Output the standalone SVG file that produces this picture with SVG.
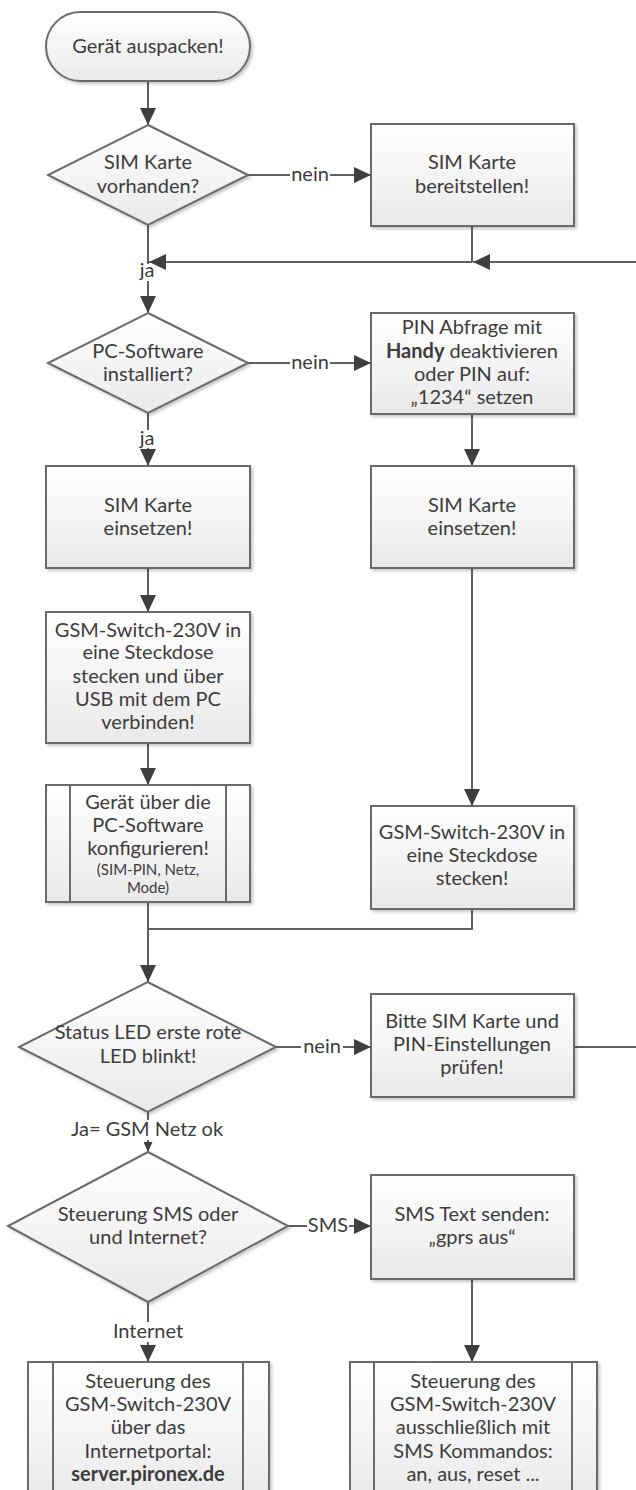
<svg xmlns="http://www.w3.org/2000/svg" width="636" height="1490" viewBox="0 0 636 1490">
<defs>
<linearGradient id="g" x1="0" y1="0" x2="0" y2="1">
<stop offset="0" stop-color="#ffffff"/>
<stop offset="1" stop-color="#e9e9e9"/>
</linearGradient>
<filter id="sh" x="-10%" y="-10%" width="120%" height="125%">
<feDropShadow dx="2" dy="2" stdDeviation="1.5" flood-color="#000" flood-opacity="0.22"/>
</filter>
<marker id="ah" markerWidth="17" markerHeight="16" refX="17" refY="8" orient="auto" markerUnits="userSpaceOnUse">
<path d="M0,0 L17,8 L0,16 Z" fill="#3f3f3f"/>
</marker>
<marker id="ahs" markerWidth="10" markerHeight="9" refX="10" refY="4.5" orient="auto" markerUnits="userSpaceOnUse">
<path d="M0,0 L10,4.5 L0,9 Z" fill="#3f3f3f"/>
</marker>
<style>
.n{fill:url(#g);stroke:#6b6b6b;stroke-width:2;filter:url(#sh)}
.s{fill:none;stroke:#6b6b6b;stroke-width:2}
.t{font-family:Lato,"Open Sans",sans-serif;font-size:20px;fill:#3c3c3c;text-anchor:middle}
.sm{font-size:15px}
.b{font-weight:bold}
.c{stroke:#5e5e5e;stroke-width:2;fill:none}
.a{marker-end:url(#ah)}
.as{marker-end:url(#ahs)}
.lb{fill:#ffffff}
</style>
</defs>

<g id="connectors">
<path class="c a" d="M148,81 L148,125"/>
<path class="c a" d="M248,175 L371,175"/>
<rect class="lb" x="290" y="166" width="40" height="18"/>
<text class="t" x="310" y="181">nein</text>
<path class="c" d="M472,226 L472,262"/>
<path class="c a" d="M148,225 L148,313"/>
<rect class="lb" x="139" y="264" width="18" height="17"/>
<text class="t" x="147" y="277">ja</text>
<path class="c a" d="M640,262 L473,262"/>
<path class="c a" d="M472,262 L149,262"/>
<path class="c a" d="M248,363 L371,363"/>
<rect class="lb" x="290" y="354" width="40" height="18"/>
<text class="t" x="310" y="369">nein</text>
<path class="c a" d="M148,413 L148,466"/>
<rect class="lb" x="139" y="430" width="18" height="18"/>
<text class="t" x="147" y="445">ja</text>
<path class="c a" d="M472,414 L472,466"/>
<path class="c a" d="M148,568 L148,612"/>
<path class="c a" d="M148,743 L148,785"/>
<path class="c a" d="M472,568 L472,806"/>
<path class="c" d="M472,909 L472,929 L148,929"/>
<path class="c a" d="M148,902 L148,982"/>
<path class="c a" d="M276,1047 L371,1047"/>
<rect class="lb" x="301" y="1038" width="42" height="18"/>
<text class="t" x="322" y="1053">nein</text>
<path class="c" d="M574,1047 L640,1047"/>
<path class="c as" d="M148,1112 L148,1152"/>
<rect class="lb" x="67" y="1120" width="160" height="20"/>
<text class="t" x="147" y="1136">Ja= GSM Netz ok</text>
<path class="c a" d="M288,1226 L371,1226"/>
<rect class="lb" x="307" y="1217" width="42" height="18"/>
<text class="t" x="328" y="1232">SMS</text>
<path class="c a" d="M472,1279 L472,1362"/>
<path class="c a" d="M148,1302 L148,1362"/>
<rect class="lb" x="106" y="1322" width="84" height="20"/>
<text class="t" x="148" y="1338">Internet</text>
</g>

<g id="start">
<rect class="n" x="46" y="12" width="204" height="69" rx="34.5" ry="34.5"/>
<text class="t" x="148" y="53">Gerät auspacken!</text>
</g>

<g id="dec_sim">
<polygon class="n" points="148,125 248,175 148,225 48,175"/>
<text class="t" x="148" y="169">SIM Karte</text>
<text class="t" x="148" y="193">vorhanden?</text>
</g>

<g id="sim_bereit">
<rect class="n" x="371" y="124" width="203" height="102"/>
<text class="t" x="472" y="169">SIM Karte</text>
<text class="t" x="472" y="193">bereitstellen!</text>
</g>

<g id="dec_pc">
<polygon class="n" points="148,313 248,363 148,413 48,363"/>
<text class="t" x="148" y="358">PC-Software</text>
<text class="t" x="148" y="381">installiert?</text>
</g>

<g id="pin">
<rect class="n" x="371" y="313" width="203" height="101"/>
<text class="t" x="472" y="334">PIN Abfrage mit</text>
<text class="t" x="472" y="358"><tspan class="b">Handy</tspan> deaktivieren</text>
<text class="t" x="472" y="381">oder PIN auf:</text>
<text class="t" x="472" y="404">„1234“ setzen</text>
</g>

<g id="sim_einsetzen_l">
<rect class="n" x="46" y="466" width="204" height="102"/>
<text class="t" x="148" y="512">SIM Karte</text>
<text class="t" x="148" y="535">einsetzen!</text>
</g>

<g id="sim_einsetzen_r">
<rect class="n" x="371" y="466" width="203" height="102"/>
<text class="t" x="472" y="512">SIM Karte</text>
<text class="t" x="472" y="535">einsetzen!</text>
</g>

<g id="gsm_usb">
<rect class="n" x="46" y="612" width="204" height="131"/>
<text class="t" x="148" y="637">GSM-Switch-230V in</text>
<text class="t" x="148" y="659">eine Steckdose</text>
<text class="t" x="148" y="683">stecken und über</text>
<text class="t" x="148" y="706">USB mit dem PC</text>
<text class="t" x="148" y="729">verbinden!</text>
</g>

<g id="konfig">
<rect class="n" x="46" y="785" width="204" height="117"/>
<line class="s" x1="70" y1="785" x2="70" y2="902"/>
<line class="s" x1="226" y1="785" x2="226" y2="902"/>
<text class="t" x="148" y="809">Gerät über die</text>
<text class="t" x="148" y="832">PC-Software</text>
<text class="t" x="148" y="855">konfigurieren!</text>
<text class="t sm" x="148" y="875">(SIM-PIN, Netz,</text>
<text class="t sm" x="148" y="893">Mode)</text>
</g>

<g id="gsm_steckdose">
<rect class="n" x="371" y="806" width="203" height="103"/>
<text class="t" x="472" y="839">GSM-Switch-230V in</text>
<text class="t" x="472" y="862">eine Steckdose</text>
<text class="t" x="472" y="885">stecken!</text>
</g>

<g id="dec_led">
<polygon class="n" points="147.5,982 276,1047 147.5,1112 19,1047"/>
<text class="t" x="148" y="1039">Status LED erste rote</text>
<text class="t" x="148" y="1063">LED blinkt!</text>
</g>

<g id="pruefen">
<rect class="n" x="371" y="994" width="203" height="103"/>
<text class="t" x="472" y="1028">Bitte SIM Karte und</text>
<text class="t" x="472" y="1051">PIN-Einstellungen</text>
<text class="t" x="472" y="1074">prüfen!</text>
</g>

<g id="dec_steuerung">
<polygon class="n" points="148,1152 288,1226 148,1302 8,1226"/>
<text class="t" x="148" y="1221">Steuerung SMS oder</text>
<text class="t" x="148" y="1244">und Internet?</text>
</g>

<g id="sms_text">
<rect class="n" x="371" y="1175" width="203" height="104"/>
<text class="t" x="472" y="1221">SMS Text senden:</text>
<text class="t" x="472" y="1244">„gprs aus“</text>
</g>

<g id="internet">
<rect class="n" x="28" y="1362" width="241" height="140"/>
<line class="s" x1="53" y1="1362" x2="53" y2="1502"/>
<line class="s" x1="243" y1="1362" x2="243" y2="1502"/>
<text class="t" x="148" y="1388">Steuerung des</text>
<text class="t" x="148" y="1411">GSM-Switch-230V</text>
<text class="t" x="148" y="1434">über das</text>
<text class="t" x="148" y="1458">Internetportal:</text>
<text class="t b" x="148" y="1481">server.pironex.de</text>
</g>

<g id="sms_only">
<rect class="n" x="350" y="1362" width="247" height="140"/>
<line class="s" x1="374" y1="1362" x2="374" y2="1502"/>
<line class="s" x1="572" y1="1362" x2="572" y2="1502"/>
<text class="t" x="473" y="1388">Steuerung des</text>
<text class="t" x="473" y="1411">GSM-Switch-230V</text>
<text class="t" x="473" y="1434">ausschließlich mit</text>
<text class="t" x="473" y="1458">SMS Kommandos:</text>
<text class="t" x="473" y="1481">an, aus, reset ...</text>
</g>
</svg>
